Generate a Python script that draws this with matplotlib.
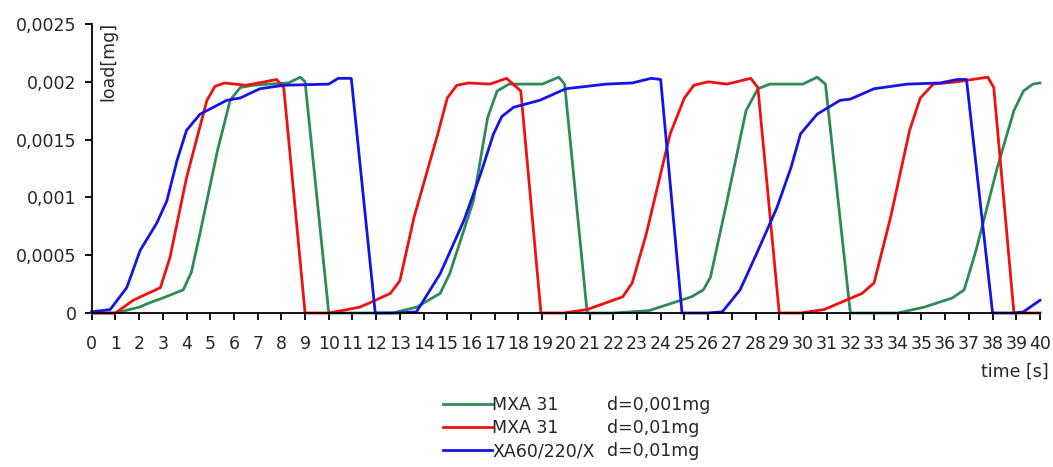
import matplotlib
matplotlib.use("Agg")
import matplotlib.pyplot as plt
import numpy as np

# data (time in s, load in mg)
green_t = [0, 1.0, 2.0, 2.46, 3.0, 3.86, 4.2, 4.57, 5.3, 5.84, 6.26, 6.8, 7.5, 8.3, 8.8, 9.0, 10.0,
           12.7, 13.7, 14.7, 15.1, 16.1, 16.7, 17.1, 17.6, 19.0, 19.7, 19.95, 20.9,
           22.0, 23.5, 24.7, 25.3, 25.8, 26.1, 26.8, 27.6, 28.1, 28.6, 30.0, 30.6, 30.95, 32.0,
           34.0, 35.1, 36.3, 36.8, 37.3, 38.2, 38.9, 39.3, 39.7, 40.0]
green_y = [0, 0, 0.00005, 0.00009, 0.00013, 0.0002, 0.00035, 0.00069, 0.0014, 0.00184, 0.00195, 0.00197, 0.00198, 0.00199, 0.00204, 0.002, 0,
           0, 0.00005, 0.00017, 0.00034, 0.00097, 0.00169, 0.00192, 0.00198, 0.00198, 0.00204, 0.00198, 0,
           0, 0.00002, 0.0001, 0.00014, 0.0002, 0.00031, 0.00097, 0.00175, 0.00194, 0.00198, 0.00198, 0.00204, 0.00198, 0,
           0, 0.00005, 0.00013, 0.0002, 0.00054, 0.00126, 0.00175, 0.00192, 0.00198, 0.00199]

red_t = [0, 1.0, 1.75, 2.9, 3.3, 4.0, 4.86, 5.2, 5.6, 6.5, 7.3, 7.8, 8.1, 9.0,
         10.0, 11.3, 11.75, 12.6, 13.0, 13.6, 14.6, 15.0, 15.4, 15.9, 16.8, 17.5, 18.1, 18.95,
         19.9, 20.9, 22.4, 22.8, 23.4, 24.4, 25.0, 25.4, 26.0, 26.8, 27.8, 28.1, 29.0,
         29.9, 30.9, 32.5, 33.0, 33.7, 34.5, 34.95, 35.5, 36.5, 37.8, 38.05, 38.9, 40.0]
red_y = [0, 0, 0.00011, 0.00022, 0.00048, 0.00117, 0.00184, 0.00196, 0.00199, 0.00197, 0.002, 0.00202, 0.00195, 0,
         0, 0.00005, 0.00009, 0.00017, 0.00028, 0.00083, 0.00155, 0.00186, 0.00197, 0.00199, 0.00198, 0.00203, 0.00192, 0,
         0, 0.00003, 0.00014, 0.00026, 0.00069, 0.00155, 0.00186, 0.00197, 0.002, 0.00198, 0.00203, 0.00195, 0,
         0, 0.00003, 0.00017, 0.00026, 0.00083, 0.00158, 0.00186, 0.00198, 0.002, 0.00204, 0.00195, 0, 0]

blue_t = [0, 0.78, 1.48, 2.04, 2.75, 3.17, 3.6, 4.0, 4.57, 5.7, 6.26, 7.1, 8.1, 10.0, 10.4, 10.95, 11.96,
          12.9, 13.7, 14.7, 15.7, 16.4, 16.95, 17.3, 17.8, 18.9, 20.0, 21.7, 22.8, 23.6, 24.0, 24.9,
          25.96, 26.6, 27.35, 28.06, 28.9, 29.5, 29.9, 30.6, 31.57, 32.0, 33.0, 34.4, 35.8, 36.5, 36.9, 38.0,
          38.9, 39.3, 40.0]
blue_y = [0.00001, 0.00003, 0.00022, 0.00054, 0.00078, 0.00097, 0.00132, 0.00158, 0.00172, 0.00184, 0.00186, 0.00194, 0.00197, 0.00198, 0.00203, 0.00203, 0,
          0, 0.00001, 0.00034, 0.0008, 0.0012, 0.00155, 0.0017, 0.00178, 0.00184, 0.00194, 0.00198, 0.00199, 0.00203, 0.00202, 0,
          0, 0.00001, 0.0002, 0.00052, 0.00091, 0.00126, 0.00155, 0.00172, 0.00184, 0.00185, 0.00194, 0.00198, 0.00199, 0.00202, 0.00202, 0,
          0, 0.00001, 0.00011]

series_names = ["MXA 31", "MXA 31", "XA60/220/X"]
series_res = ["d=0,001mg", "d=0,01mg", "d=0,01mg"]
colors = ["#2e8b57", "#f01010", "#1414e6"]

y_ticks = [0, 0.0005, 0.001, 0.0015, 0.002, 0.0025]
y_labels = ["0", "0,0005", "0,001", "0,0015", "0,002", "0,0025"]
x_ticks = list(range(0, 41))

plt.rcParams["font.family"] = "DejaVu Sans"
plt.rcParams["font.size"] = 12.5
txt_col = "#262626"

fig = plt.figure(figsize=(10.53, 4.67), dpi=100)
ax = fig.add_axes([91.7 / 1053, 1 - 313 / 467, (1040 - 91.7) / 1053, (313 - 24) / 467])

lines = []
for t, y, c in zip([green_t, red_t, blue_t], [green_y, red_y, blue_y], colors):
    ln, = ax.plot(t, y, color=c, lw=2.0, solid_joinstyle="round", clip_on=False)
    lines.append(ln)

ax.set_xlim(0, 40)
ax.set_ylim(0, 0.0025)
ax.set_xticks(x_ticks)
ax.set_xticklabels([str(v) for v in x_ticks])
ax.set_yticks(y_ticks)
ax.set_yticklabels(y_labels)
for s in ["top", "right"]:
    ax.spines[s].set_visible(False)
ax.spines["left"].set_linewidth(1.3)
ax.spines["bottom"].set_linewidth(1.3)
ax.tick_params(axis="y", length=5, width=1.3, pad=6, labelcolor=txt_col)
ax.tick_params(axis="x", length=5, width=1.3, pad=11, labelcolor=txt_col)

ax.text(0.7, 0.00252, "load[mg]", rotation=90, ha="center", va="top", color=txt_col)
fig.text(1049 / 1053, 1 - 372 / 467, "time [s]", ha="right", va="center", color=txt_col)

leg = fig.legend(lines, series_names, loc="upper left",
                 bbox_to_anchor=(443 / 1053, 1 - 396 / 467), frameon=False,
                 borderpad=0, borderaxespad=0, handlelength=2.8, handletextpad=0.05,
                 labelspacing=0.3)
for t in leg.get_texts():
    t.set_color(txt_col)

fig.canvas.draw()
for t, lab in zip(leg.get_texts(), series_res):
    bb = t.get_window_extent()
    fig.text(607 / 1053, (bb.y0 + bb.y1) / 2 / fig.bbox.height, lab,
             ha="left", va="center", color=txt_col)

fig.savefig("out.png", dpi=100)
